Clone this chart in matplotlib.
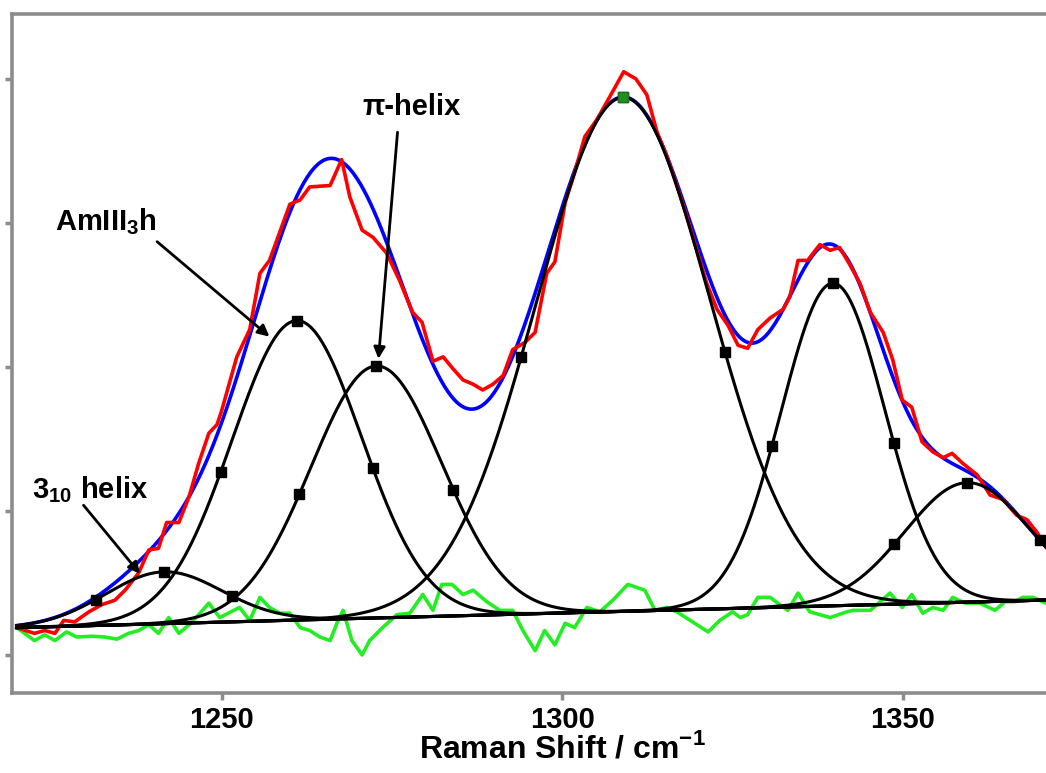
import numpy as np
import matplotlib
matplotlib.use("Agg")
import matplotlib.pyplot as plt

plt.rcParams['font.family'] = ['Liberation Sans', 'DejaVu Sans']
plt.rcParams['font.weight'] = 'bold'
plt.rcParams['mathtext.fontset'] = 'custom'
plt.rcParams['mathtext.rm'] = 'Liberation Sans:bold'
plt.rcParams['mathtext.bf'] = 'Liberation Sans:bold'

# measured spectrum (red)
raman_x = [1219.9, 1222.5, 1224.0, 1225.5, 1226.8, 1228.4, 1230.5, 1232.4, 1234.3, 1235.8,
           1237.8, 1239.3, 1240.7, 1241.9, 1243.7, 1245.2, 1246.6, 1248.1, 1249.3, 1250.0,
           1252.2, 1254.1, 1255.6, 1257.0, 1260.0, 1261.5, 1262.9, 1265.9, 1267.6, 1268.8,
           1270.6, 1272.2, 1274.2, 1276.1, 1278.0, 1279.4, 1281.0, 1282.5, 1283.9, 1285.4,
           1286.9, 1288.3, 1289.8, 1291.3, 1292.7, 1294.5, 1296.0, 1297.7, 1298.9, 1300.4,
           1301.8, 1303.3, 1305.1, 1307.0, 1309.0, 1310.8, 1312.4, 1313.9, 1315.3, 1316.8,
           1318.3, 1319.8, 1321.2, 1322.7, 1324.3, 1325.8, 1327.2, 1328.7, 1330.5, 1332.4,
           1333.4, 1334.6, 1336.0, 1337.8, 1339.3, 1340.7, 1342.2, 1343.7, 1345.2, 1347.1,
           1348.5, 1349.9, 1351.3, 1352.8, 1354.4, 1355.9, 1357.2, 1358.8, 1360.9, 1362.8,
           1364.7, 1366.7, 1368.2, 1369.7, 1371.0]
raman_y = [0.19, 0.15, 0.17, 0.15, 0.24, 0.23, 0.30, 0.35, 0.38, 0.45,
           0.57, 0.73, 0.74, 0.92, 0.92, 1.10, 1.33, 1.54, 1.60, 1.70,
           2.07, 2.26, 2.65, 2.74, 3.13, 3.16, 3.25, 3.26, 3.44, 3.18,
           2.95, 2.90, 2.79, 2.60, 2.38, 2.31, 2.04, 2.07, 1.99, 1.91,
           1.88, 1.84, 1.88, 1.94, 2.12, 2.17, 2.24, 2.65, 2.73, 3.14,
           3.35, 3.60, 3.72, 3.88, 4.05, 4.00, 3.89, 3.63, 3.47, 3.26,
           3.04, 2.80, 2.58, 2.40, 2.29, 2.15, 2.13, 2.26, 2.34, 2.40,
           2.49, 2.74, 2.74, 2.85, 2.81, 2.83, 2.71, 2.58, 2.38, 2.24,
           2.05, 1.77, 1.72, 1.48, 1.41, 1.37, 1.40, 1.33, 1.25, 1.11,
           1.08, 0.97, 0.94, 0.85, 0.75]

# residual (green)
resid_x = [1219.9, 1222.5, 1224.0, 1225.5, 1227.2, 1228.7, 1230.9, 1232.8, 1234.6, 1236.3,
           1237.8, 1239.3, 1240.7, 1242.2, 1243.7, 1245.2, 1246.6, 1248.1, 1249.7, 1252.6,
           1254.1, 1255.6, 1257.0, 1258.5, 1260.0, 1261.5, 1262.9, 1264.4, 1265.9, 1266.9,
           1267.8, 1269.1, 1270.6, 1271.7, 1273.6, 1275.7, 1277.6, 1279.5, 1281.0, 1282.3,
           1283.8, 1285.4, 1286.9, 1288.9, 1290.8, 1292.7, 1294.2, 1296.0, 1297.4, 1298.9,
           1300.4, 1301.8, 1303.6, 1305.5, 1307.4, 1309.6, 1312.1, 1313.6, 1315.3, 1316.8,
           1321.4, 1323.1, 1325.0, 1326.1, 1327.2, 1328.7, 1330.5, 1331.9, 1333.1, 1334.6,
           1336.3, 1339.3, 1341.8, 1342.7, 1345.2, 1348.1, 1349.9, 1351.3, 1352.9, 1354.4,
           1355.9, 1357.3, 1359.1, 1361.3, 1363.5, 1365.0, 1366.4, 1367.6, 1369.1, 1371.0]
resid_y = [0.19, 0.10, 0.14, 0.10, 0.16, 0.125, 0.13, 0.125, 0.11, 0.15,
           0.17, 0.21, 0.15, 0.26, 0.15, 0.21, 0.28, 0.36, 0.26, 0.33,
           0.24, 0.40, 0.33, 0.29, 0.29, 0.19, 0.17, 0.125, 0.10, 0.22,
           0.31, 0.10, 0.0, 0.10, 0.19, 0.28, 0.29, 0.42, 0.31, 0.49,
           0.49, 0.42, 0.45, 0.37, 0.31, 0.31, 0.17, 0.03, 0.17, 0.07,
           0.22, 0.19, 0.33, 0.30, 0.38, 0.49, 0.45, 0.31, 0.33, 0.30,
           0.16, 0.24, 0.30, 0.26, 0.28, 0.40, 0.40, 0.35, 0.31, 0.43,
           0.30, 0.26, 0.30, 0.31, 0.31, 0.43, 0.33, 0.42, 0.29, 0.33,
           0.31, 0.40, 0.36, 0.36, 0.31, 0.37, 0.37, 0.40, 0.40, 0.36]

# linear baseline
base_x = [1220, 1370]
base_y = [0.19, 0.38]

# gaussian components: centre, height above baseline, sigma
centers = [1241.5, 1261.0, 1272.7, 1308.9, 1339.7, 1359.4]
heights = [0.36, 2.08, 1.75, 3.57, 2.24, 0.83]
sigmas = [8.5, 9.5, 9.6, 12.7, 7.6, 9.1]

xticks = [1250, 1300, 1350]


def baseline(x):
    x = np.asarray(x, dtype=float)
    return base_y[0] + (x - base_x[0]) * (base_y[1] - base_y[0]) / (base_x[1] - base_x[0])


def band(x, c, h, s):
    return h * np.exp(-(np.asarray(x) - c) ** 2 / (2 * s ** 2))


xs = np.linspace(1219.9, 1371, 600)
fit = baseline(xs) + sum(band(xs, c, h, s) for c, h, s in zip(centers, heights, sigmas))

fig = plt.figure(figsize=(10.46, 7.73), dpi=100)
ax = fig.add_axes([12 / 1046, 80 / 773, 1034 / 1046, 679 / 773])

ax.plot(resid_x, resid_y, color='#22ee22', lw=2.6, zorder=2)
ax.plot(xs, fit, color='#0000ff', lw=2.6, zorder=3)
ax.plot(raman_x, raman_y, color='#ff0000', lw=2.6, zorder=4)

hw = np.sqrt(2 * np.log(2))
for i, (c, h, s) in enumerate(zip(centers, heights, sigmas)):
    ax.plot(xs, baseline(xs) + band(xs, c, h, s), color='k', lw=2.2, zorder=5)
    mx = np.array([c - hw * s, c, c + hw * s])
    my = baseline(mx) + band(mx, c, h, s)
    ax.plot(mx, my, ls='none', marker='s', ms=6.5, mfc='k', mec='k', zorder=6)
    if i == 3:
        ax.plot([c], [baseline(c) + h], ls='none', marker='s', ms=6.5,
                mfc='#1f8f1f', mec='#1f6f1f', zorder=7)

ax.plot(xs, baseline(xs), color='k', lw=2.2, zorder=5)

# labels and arrows
arrow = dict(arrowstyle='-|>', color='k', lw=2.0, mutation_scale=17, shrinkA=0, shrinkB=0)
ax.text(1222.2, 1.146, r'3$_{10}$ helix', fontsize=21, fontweight='bold', ha='left', va='center')
c, h, s = centers[0], heights[0], sigmas[0]
ax.annotate('', xy=(1238, baseline(1238) + band(1238, c, h, s) + 0.02),
            xytext=(1229.7, 1.04), arrowprops=arrow, zorder=8)

ax.text(1225.5, 3.007, r'AmIII$_3$h', fontsize=21, fontweight='bold', ha='left', va='center')
c, h, s = centers[1], heights[1], sigmas[1]
ax.annotate('', xy=(1257, baseline(1257) + band(1257, c, h, s) + 0.07),
            xytext=(1240.5, 2.87), arrowprops=arrow, zorder=8)

ax.text(1270.6, 3.806, 'π-helix', fontsize=21, fontweight='bold', ha='left', va='center')
ax.annotate('', xy=(centers[2] + 0.3, baseline(centers[2]) + heights[2] + 0.05),
            xytext=(1275.8, 3.63), arrowprops=arrow, zorder=8)

ax.set_xlim(1219.2, 1371.0)
ax.set_ylim(-0.264, 4.451)
ax.set_xticks(xticks)
ax.set_xticklabels([str(t) for t in xticks], fontsize=21, fontweight='bold')
ax.set_yticks([0, 1, 2, 3, 4])
ax.set_yticklabels([])
ax.tick_params(axis='both', direction='out', color='#8c8c8c', width=2.5, length=5)
ax.tick_params(axis='x', pad=4)
ax.set_xlabel(r'Raman Shift / cm$^{\mathrm{-1}}$', fontsize=23, fontweight='bold')
ax.xaxis.set_label_coords(0.532, -0.058)

for side in ['left', 'top', 'bottom']:
    ax.spines[side].set_color('#8c8c8c')
    ax.spines[side].set_linewidth(2.6)
ax.spines['right'].set_visible(False)

fig.savefig('out.png', dpi=100)
